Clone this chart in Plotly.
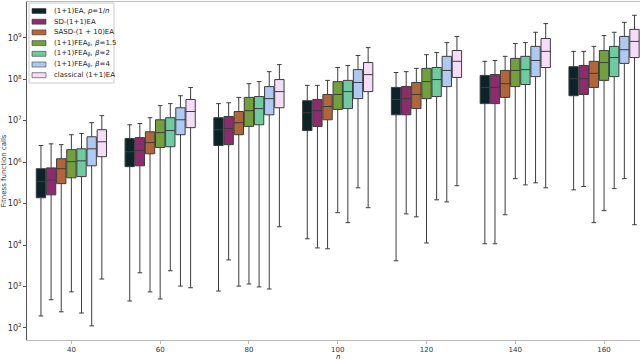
import plotly.graph_objects as go

# problem sizes
n_values = ["40", "60", "80", "100", "120", "140", "160"]

series_names = [
    "(1+1)EA, <i>p</i>=1/<i>n</i>",
    "SD-(1+1)EA",
    "SASD-(1 + 10)EA",
    "(1+1)FEA<sub>β</sub>, <i>β</i>=1.5",
    "(1+1)FEA<sub>β</sub>, <i>β</i>=2",
    "(1+1)FEA<sub>β</sub>, <i>β</i>=4",
    "classical (1+1)EA",
]
colors = ["#0c2427", "#8c2c6c", "#b0663a", "#72a03c", "#6ecba0", "#aecaf2", "#f5dcf7"]

# log10 of fitness function calls
# each series: per n value -> (min, q1, median, q3, max)
ea_1n = [(2.29, 5.14, 5.53, 5.84, 6.40), (2.65, 5.89, 6.25, 6.57, 6.90), (2.89, 6.40, 6.78, 7.07, 7.41),
         (4.15, 6.76, 7.19, 7.48, 7.85), (3.62, 7.14, 7.51, 7.80, 8.16), (4.03, 7.41, 7.80, 8.09, 8.43),
         (5.33, 7.60, 8.01, 8.30, 8.67)]
sd_ea = [(2.68, 5.21, 5.57, 5.86, 6.44), (3.33, 5.91, 6.28, 6.59, 6.93), (3.64, 6.42, 6.81, 7.10, 7.43),
         (3.93, 6.86, 7.24, 7.51, 7.85), (4.75, 7.14, 7.53, 7.82, 8.18), (4.03, 7.41, 7.80, 8.11, 8.45),
         (5.41, 7.63, 8.01, 8.33, 8.67)]
sasd_ea = [(2.39, 5.48, 5.84, 6.08, 6.42), (2.87, 6.20, 6.47, 6.73, 7.07), (3.01, 6.66, 6.95, 7.22, 7.56),
           (3.91, 7.02, 7.34, 7.63, 7.97), (4.68, 7.29, 7.63, 7.92, 8.26), (4.73, 7.56, 7.89, 8.21, 8.55),
           (4.54, 7.80, 8.14, 8.43, 8.79)]
fea_15 = [(2.87, 5.62, 6.01, 6.30, 6.66), (2.70, 6.35, 6.71, 7.02, 7.36), (3.06, 6.86, 7.24, 7.56, 7.89),
          (4.78, 7.27, 7.63, 7.94, 8.28), (4.05, 7.53, 7.94, 8.26, 8.59), (5.60, 7.82, 8.21, 8.50, 8.86),
          (4.83, 7.97, 8.40, 8.69, 9.05)]
fea_2 = [(2.36, 5.65, 6.03, 6.32, 6.69), (3.38, 6.37, 6.76, 7.07, 7.41), (2.99, 6.90, 7.29, 7.58, 7.94),
         (4.54, 7.29, 7.70, 7.97, 8.33), (5.09, 7.58, 7.99, 8.28, 8.64), (5.45, 7.87, 8.23, 8.55, 8.88),
         (5.36, 8.06, 8.52, 8.79, 9.13)]
fea_4 = [(2.05, 5.91, 6.32, 6.61, 6.95), (3.01, 6.66, 7.02, 7.31, 7.60), (2.94, 7.14, 7.53, 7.82, 8.18),
         (5.38, 7.53, 7.92, 8.23, 8.57), (5.04, 7.82, 8.21, 8.55, 8.88), (5.50, 8.06, 8.45, 8.79, 9.13),
         (5.60, 8.38, 8.71, 9.03, 9.37)]
classical = [(3.18, 6.13, 6.49, 6.78, 7.12), (2.97, 6.83, 7.22, 7.51, 7.80), (4.44, 7.31, 7.70, 7.99, 8.35),
             (4.90, 7.70, 8.11, 8.40, 8.76), (5.43, 8.04, 8.43, 8.69, 9.03), (5.38, 8.28, 8.67, 8.98, 9.34),
             (4.49, 8.52, 8.91, 9.20, 9.54)]

all_series = [ea_1n, sd_ea, sasd_ea, fea_15, fea_2, fea_4, classical]

W, H = 640, 360
ML, MR, MT, MB = 27, 0, 2, 20
PW, PH = W - ML - MR, H - MT - MB


def px(x):  # pixel -> paper x
    return (x - ML) / PW


def py(y):  # pixel -> paper y
    return (H - MB - y) / PH


fig = go.Figure()
for name, col, data in zip(series_names, colors, all_series):
    fig.add_trace(go.Box(
        name=name,
        x=n_values,
        lowerfence=[10 ** d[0] for d in data],
        q1=[10 ** d[1] for d in data],
        median=[10 ** d[2] for d in data],
        q3=[10 ** d[3] for d in data],
        upperfence=[10 ** d[4] for d in data],
        fillcolor=col,
        line=dict(color="#3c3c3c", width=1),
        whiskerwidth=0.5,
        boxpoints=False,
        hoverinfo="skip",
        showlegend=False,
    ))

# compact legend (matplotlib-like) built from layout shapes + annotations
shapes = [dict(type="rect", xref="paper", yref="paper",
               x0=px(29), x1=px(114), y0=py(83), y1=py(3),
               line=dict(color="#cccccc", width=1), fillcolor="rgba(255,255,255,0.85)", layer="above")]
annotations = []
for i, (name, col) in enumerate(zip(series_names, colors)):
    yc = 11 + i * 10.7
    shapes.append(dict(type="rect", xref="paper", yref="paper",
                       x0=px(32), x1=px(46), y0=py(yc + 2.5), y1=py(yc - 2.5),
                       line=dict(color="#3c3c3c", width=0.6), fillcolor=col, layer="above"))
    annotations.append(dict(xref="paper", yref="paper", x=px(52), y=py(yc),
                            xanchor="left", yanchor="middle", showarrow=False,
                            text=name, font=dict(size=7, color="#222")))

# x-axis title "n" placed below the tick labels
annotations.append(dict(xref="paper", yref="paper", x=0.5 * (px(338) + px(338)), y=py(356.5),
                        xanchor="center", yanchor="middle", showarrow=False,
                        text="<i>n</i>", font=dict(size=7, color="#333")))

fig.update_layout(
    width=W, height=H,
    margin=dict(l=ML, r=MR, t=MT, b=MB),
    paper_bgcolor="white", plot_bgcolor="white",
    font=dict(family="DejaVu Sans", size=7, color="#333"),
    boxmode="group", boxgap=0.2, boxgroupgap=0.08,
    showlegend=False,
    shapes=shapes,
    annotations=annotations,
)
fig.update_xaxes(
    type="category", range=[-0.5, 6.405],
    showline=True, linecolor="#bbbbbb", linewidth=1, mirror=True,
    ticks="outside", ticklen=3, tickcolor="#bbbbbb", tickfont=dict(size=7),
    showgrid=False, zeroline=False, automargin=False,
)
fig.update_yaxes(
    type="log", range=[1.71, 9.86], dtick=1, exponentformat="power",
    showline=True, linecolor="#555555", linewidth=1, mirror=True,
    ticks="outside", ticklen=3, tickcolor="#555555", tickfont=dict(size=6.5),
    title=dict(text="Fitness function calls", standoff=2, font=dict(size=7)),
    showgrid=False, zeroline=False, automargin=False,
)

fig.write_html("out.html", config={"displayModeBar": False},
               post_script="document.body.style.margin='0';document.body.style.overflow='hidden';")
